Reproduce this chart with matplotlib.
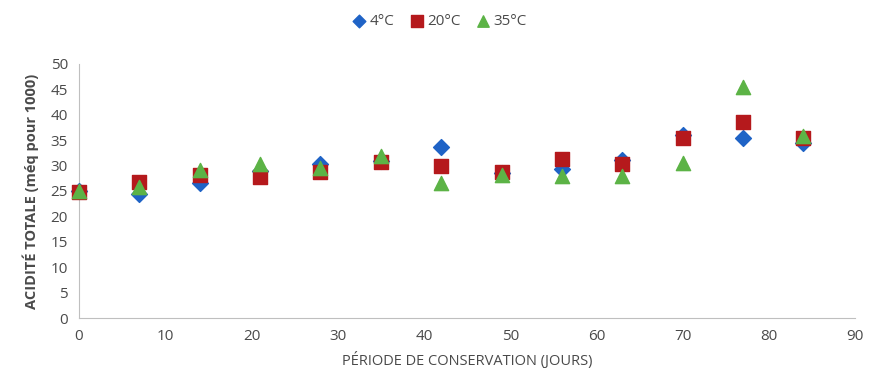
import matplotlib.pyplot as plt

# data
jours = [0, 7, 14, 21, 28, 35, 42, 49, 56, 63, 70, 77, 84]
acid_4 = [25.0, 24.5, 26.6, 29.0, 30.3, 31.0, 33.6, 28.5, 29.3, 31.2, 36.0, 35.4, 34.5]
acid_20 = [24.8, 26.8, 28.1, 27.8, 28.7, 30.8, 30.0, 28.8, 31.3, 30.4, 35.4, 38.5, 35.4]
acid_35 = [25.0, 25.8, 29.1, 30.4, 29.5, 31.8, 26.6, 28.1, 28.0, 28.0, 30.6, 45.5, 35.8]

plt.rcParams['font.family'] = ['Open Sans', 'DejaVu Sans']
grey = '#4a4a4a'

fig = plt.figure(figsize=(8.78, 3.82), dpi=100)
ax = fig.add_axes([0.09, 0.1675, 0.884, 0.665])

ax.scatter(jours, acid_4, marker='D', s=65, color='#1f63c6', label='4°C',
           zorder=3, clip_on=False)
ax.scatter(jours, acid_20, marker='s', s=105, color='#b5191c', label='20°C',
           zorder=4, clip_on=False)
ax.scatter(jours, acid_35, marker='^', s=105, color='#5cb346', label='35°C',
           zorder=5, clip_on=False)

ax.set_xlim(0, 90)
ax.set_ylim(0, 50)
ax.set_xticks(range(0, 91, 10))
ax.set_yticks(range(0, 51, 5))
ax.tick_params(length=0, labelsize=11, labelcolor=grey, pad=8)

for side in ['top', 'right']:
    ax.spines[side].set_visible(False)
for side in ['left', 'bottom']:
    ax.spines[side].set_color('#bfbfbf')
    ax.spines[side].set_zorder(1)

ax.set_xlabel('PÉRIODE DE CONSERVATION (JOURS)', fontsize=10.5, color=grey, labelpad=6)
ax.set_ylabel('ACIDITÉ TOTALE (méq pour 1000)', fontsize=10.5, color=grey,
              fontweight='bold', labelpad=8)

fig.legend(loc='upper center', bbox_to_anchor=(0.5, 1.0), ncol=3, frameon=False,
           fontsize=11, labelcolor=grey, handletextpad=0.15, handlelength=1.0,
           columnspacing=1.0, markerscale=0.8)

fig.savefig('out.png', dpi=100)
